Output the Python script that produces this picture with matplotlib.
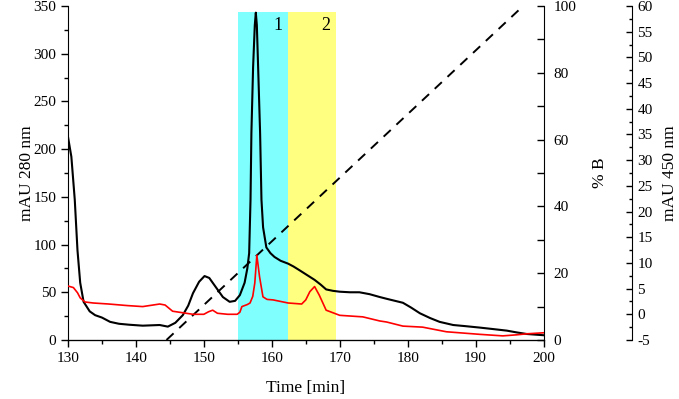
import numpy as np
import matplotlib
matplotlib.use("Agg")
import matplotlib.pyplot as plt
from matplotlib.ticker import MultipleLocator

plt.rcParams['font.family'] = ['Liberation Serif', 'DejaVu Serif']
plt.rcParams['font.size'] = 11
plt.rcParams['axes.unicode_minus'] = False

# absorbance at 280 nm (left axis)
t_280 = [130, 130.5, 131, 131.4, 131.8, 132.3, 133.2, 134, 135, 136.2, 137.5, 139, 141,
         143.5, 144.7, 145.8, 146.9, 147.7, 148.4, 149.3, 150.1, 150.8, 151.9, 152.8,
         153.8, 154.6, 155.3, 156.0, 156.4, 156.67, 156.87, 157.0, 157.25, 157.5, 157.65,
         157.8, 157.99, 158.28, 158.48, 158.72, 159.2, 159.8, 160.4, 161.3, 162.4, 163.2,
         164.1, 165.2, 166.3, 167.2, 168, 169, 170, 171.5, 172.9, 174.4, 175.9, 177,
         179.3, 180.5, 181.8, 183.3, 184.7, 186.7, 188.5, 190.6, 192.5, 194.6, 196, 197.5, 200]
mau_280 = [213, 192, 147, 94, 60, 40, 30, 26, 23.5, 19, 17, 16, 15,
           15.7, 14, 18, 26, 36, 49, 61, 67, 65, 54, 45,
           40, 41, 47, 60, 75, 91, 147, 217, 286, 330, 343,
           330, 286, 217, 147, 118, 97, 91, 87, 83, 80, 77,
           73, 68, 63, 58, 53, 51.5, 50.6, 50, 50, 48, 45, 43,
           39, 34, 28, 23, 19, 15.7, 14.5, 13, 11.5, 9.8, 8, 6.3, 5]

# absorbance at 450 nm (third axis)
t_450 = [130, 130.8, 131.4, 131.8, 132.5, 133.7, 136, 138.7, 141, 142.5, 143.5, 144.3,
         145.4, 146.9, 148.4, 150, 150.7, 151.3, 152, 153.5, 154.9, 155.3, 155.6, 156.4,
         156.8, 157.2, 157.5, 157.8, 158.2, 158.7, 159.3, 160.2, 162.4, 164.4, 165.0,
         165.6, 166.3, 167, 168, 170, 173.4, 175.9, 176.9, 179.3, 182.2, 185.7, 190.6,
         194, 196, 197.5, 200]
mau_450 = [5.5, 5.2, 4.2, 3.2, 2.4, 2.2, 2.0, 1.7, 1.5, 1.8, 2.0, 1.8,
           0.6, 0.3, 0.0, 0.0, 0.5, 0.8, 0.2, 0.0, 0.0, 0.4, 1.5, 1.9,
           2.2, 3.5, 6.1, 11.5, 7.3, 3.4, 2.9, 2.8, 2.2, 2.0, 2.8,
           4.4, 5.4, 3.7, 0.8, -0.2, -0.5, -1.3, -1.5, -2.3, -2.5, -3.4, -3.9,
           -4.2, -4.0, -3.8, -3.6]

# gradient
t_grad = [144.5, 197]
pct_b = [0, 100]

# collected fractions
fractions = ['1', '2']
frac_start = [155.0, 162.4]
frac_end = [162.4, 169.5]
frac_colors = ['#80ffff', '#ffff80']

fig = plt.figure(figsize=(6.79, 3.99), dpi=100)
ax = fig.add_axes([0.1001, 0.1479, 0.7004, 0.8371])

for lab, a, b, c in zip(fractions, frac_start, frac_end, frac_colors):
    ax.axvspan(a, b, ymin=0, ymax=0.982, color=c, lw=0, zorder=0)
    ax.text(b - 1.5, 330, lab, ha='center', va='center', fontsize=13)

ax.plot(t_280, mau_280, color='black', lw=1.5, zorder=3)
ax.set_xlim(130, 200)
ax.set_ylim(0, 350)
ax.xaxis.set_major_locator(MultipleLocator(10))
ax.xaxis.set_minor_locator(MultipleLocator(5))
ax.yaxis.set_major_locator(MultipleLocator(50))
ax.yaxis.set_minor_locator(MultipleLocator(25))
ax.tick_params(which='major', direction='out', length=5, width=1, labelsize=11)
ax.tick_params(which='minor', direction='out', length=3, width=1)
ax.spines['top'].set_visible(False)
ax.spines['right'].set_visible(False)
ax.set_xlabel('Time [min]', fontsize=12.5)
ax.set_ylabel('mAU 280 nm', fontsize=12.5)
ax.xaxis.set_label_coords(0.5, -0.12)
ax.yaxis.set_label_coords(-0.069, 0.5)

ax2 = ax.twinx()
ax2.plot(t_grad, pct_b, color='black', lw=1.4, ls=(0, (5, 4)))
ax2.set_ylim(0, 100)
ax2.yaxis.set_major_locator(MultipleLocator(20))
ax2.yaxis.set_minor_locator(MultipleLocator(10))
ax2.tick_params(which='major', direction='in', length=5, width=1, pad=7, labelsize=11)
ax2.tick_params(which='minor', direction='in', length=5, width=1)
ax2.spines['top'].set_visible(False)
ax2.spines['left'].set_visible(False)
ax2.set_ylabel('% B', fontsize=12.5)
ax2.yaxis.set_label_coords(1.102, 0.5)

ax3 = ax.twinx()
ax3.spines['right'].set_position(('axes', 1.186))
ax3.plot(t_450, mau_450, color='red', lw=1.2)
ax3.set_ylim(-5, 60)
ax3.yaxis.set_major_locator(MultipleLocator(5))
ax3.yaxis.set_minor_locator(MultipleLocator(2.5))
ax3.tick_params(which='major', direction='in', length=4, width=1, pad=4, labelsize=11)
ax3.tick_params(which='minor', direction='in', length=2.5, width=1)
ax3.spines['top'].set_visible(False)
ax3.spines['left'].set_visible(False)
ax3.set_ylabel('mAU 450 nm', fontsize=12.5)
ax3.yaxis.set_label_coords(1.249, 0.5)

fig.savefig('out.png', dpi=100)
